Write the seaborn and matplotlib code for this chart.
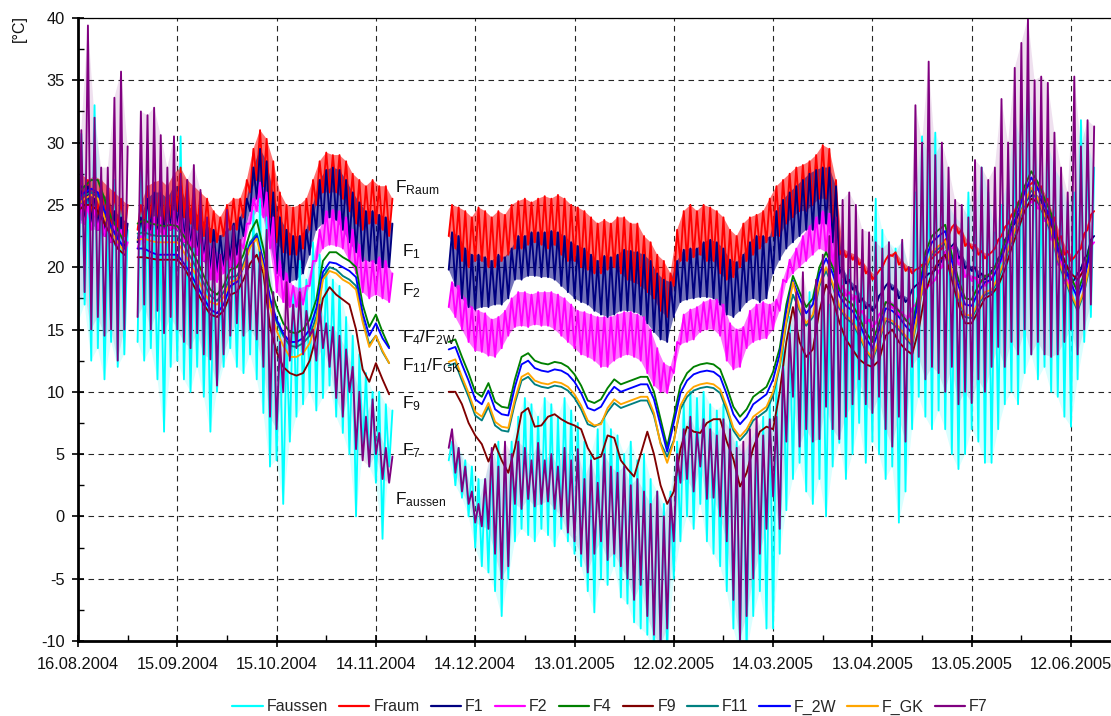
import matplotlib
matplotlib.use("Agg")
import matplotlib.pyplot as plt
from matplotlib.lines import Line2D
from matplotlib.ticker import MultipleLocator, AutoMinorLocator, FixedLocator
import seaborn as sns
import pandas as pd
from datetime import datetime

# ---------------- data ----------------
START = datetime(2004, 8, 16)
tick_labels = ["16.08.2004", "15.09.2004", "15.10.2004", "14.11.2004", "14.12.2004",
               "13.01.2005", "12.02.2005", "14.03.2005", "13.04.2005", "13.05.2005",
               "12.06.2005"]
# sampling days (days since 16.08.2004) of the three measured periods
seg_days = [list(range(0, 16, 2)), list(range(18, 96, 2)), list(range(112, 308, 2))]

# oscillating series: daily highs and lows (every 2nd day)
fraum_hi = ([27.5, 27, 27.3, 27, 26.5, 26, 25.5, 25] +
            [25, 26.5, 26.8, 27, 26.5, 27.5, 28, 27, 26.5, 26, 25.5, 24.5, 24, 25, 25.5, 25.5,
             27, 29.5, 31, 30.3, 28.5, 26, 25, 24.8, 25, 25.5, 27, 28.5, 29.2, 29, 29, 28.5,
             27.5, 27, 26.5, 27, 26.5, 26.5, 25.5] +
            [25, 24.8, 24.5, 24, 24.8, 24.5, 24, 24.5, 24.2, 25, 25.3, 25.5, 25.2, 25.5, 25.7,
             25.5, 25.8, 25.5, 25, 24.8, 24.5, 24, 23.5, 23.8, 23.5, 24, 24, 23.5, 23.5, 22.5,
             22, 21, 20.5, 19.5, 23, 24.5, 25, 24.5, 25, 24.8, 24.5, 24, 23, 22.5, 23.5,
             24, 24.2, 24.5, 25.5, 26.5, 27, 27.5, 28, 28.2, 28.5, 29, 29.8, 29.5, 27, 21.5,
             21.2, 21, 20.5, 19.8, 19.3, 20, 21, 21.2, 20.5, 20, 19.8, 20.2, 20.5, 21, 21.5,
             22.5, 23.5, 23, 22, 21.8, 21.3, 21, 21.5, 22.5, 23.5, 24.5, 25.5, 26.5, 27, 26.5,
             25.5, 24, 22.5, 21.3, 20.8, 21.5, 23, 24.5])
fraum_lo = ([24.5, 24.5, 24, 24, 23.5, 23.5, 23, 22.5] +
            [23, 23.5, 24, 24, 23.5, 24, 24.5, 24, 23.5, 23, 22.5, 22, 22, 22.5, 23, 23,
             24, 26, 27, 26.5, 24, 22, 21.2, 21, 21, 21.5, 23, 25, 26, 26, 26, 25.5,
             24.5, 23.5, 23, 23.5, 23.5, 23, 22.5] +
            [22.5, 21.5, 20.5, 20, 20.5, 20.5, 20, 20, 20.5, 21, 21.5, 21.5, 21.8, 22, 21.8,
             21.5, 21.8, 21, 20.5, 20.5, 20, 19.8, 19.5, 19.5, 19.8, 20, 19.5, 19, 18.8, 18.5,
             18, 17.5, 16.5, 16, 18.5, 20.5, 20.5, 20.8, 21, 20.5, 20.5, 19.5, 19, 19.2, 20,
             20.5, 21, 21.5, 22, 22.5, 22.5, 23.5, 24, 24.5, 24.5, 25, 25.5, 25.5, 23, 21,
             20.8, 20.6, 20.2, 19.5, 19, 19.7, 20.6, 20.9, 20.2, 19.7, 19.5, 19.9, 20.2, 20.7, 21.2,
             22.2, 23.2, 22.7, 21.7, 21.5, 21, 20.7, 21.2, 22.2, 23.2, 24.2, 25.2, 26.2, 26.7, 26.2,
             25.2, 23.7, 22.2, 21, 20.5, 21.2, 22.7, 24.2])

f1_hi = ([26.5, 26.5, 26, 26, 25.5, 24.5, 24, 23.5] +
         [24, 25.5, 26, 26, 25.5, 26.5, 26.5, 25, 24.5, 24, 23.3, 23, 22.5, 23, 23.5, 24,
          25.5, 28, 29.5, 28.5, 26, 24, 23, 22.5, 22.5, 23, 25, 27, 27.8, 28, 27.8, 27,
          26, 25.2, 24.5, 24.5, 24.2, 24, 23.5] +
         [22.8, 22.5, 21.5, 21, 21, 20.8, 20.5, 21, 20.8, 21.5, 22.5, 22.5, 22.8, 22.8, 22.8,
          22.9, 22.8, 22.5, 22, 21.7, 21.5, 21, 20.5, 20.9, 20.8, 21, 21.4, 21.3, 21.2, 21,
          20.5, 19.5, 19, 18.8, 20.5, 21.4, 21.5, 21.5, 22, 22.2, 22, 21.5, 20.6, 20.4, 21,
          22, 22.5, 22.5, 22.4, 24.5, 25.4, 26, 26.5, 27, 27.5, 27.8, 28, 28, 26.5, 20,
          19, 18.5, 17.5, 17, 16.8, 18, 18.8, 18.5, 17.8, 17.5, 18.5, 19, 19.5, 19.8, 20.5,
          21.5, 22, 21, 20.2, 20, 19.5, 19.3, 20, 21, 22.5, 23.5, 24.5, 25.5, 26, 25.5,
          24.5, 23, 21, 19.5, 19, 19.8, 21, 22.5])
f1_lo = ([24, 23.5, 23.5, 23, 22.5, 22, 21.5, 21] +
         [22, 22.5, 23, 23, 22.5, 23, 23, 22, 21.5, 21, 20.5, 19.5, 19.5, 20, 20.5, 21,
          22.5, 24.5, 25.5, 24.5, 22, 19.5, 19, 18.8, 19, 19.5, 21, 23, 23.5, 24, 23.8, 23,
          22, 21.2, 20.5, 20.5, 20.3, 20, 20] +
         [19.8, 18.5, 17.5, 16.8, 16.6, 16.8, 16.8, 17, 17, 17.5, 19, 19, 19.3, 19.3, 19.2,
          19.2, 19, 18.5, 18, 17.5, 17.2, 17, 16.5, 16.2, 16, 16.2, 16.5, 16.5, 16.4, 16.2,
          15.5, 14.8, 14.2, 14, 16, 17.2, 17.4, 17.5, 17.6, 17.6, 17.5, 17, 16.2, 16, 16.5,
          17.2, 17.5, 17.2, 17.5, 19.5, 20.6, 21.5, 22, 22.5, 23, 23, 23.5, 23.5, 22, 19.5,
          18.7, 18.2, 17.2, 16.7, 16.5, 17.7, 18.5, 18.2, 17.5, 17.2, 18.2, 18.7, 19.2, 19.5, 20.2,
          21.2, 21.7, 20.7, 19.9, 19.7, 19.2, 19, 19.7, 20.7, 22.2, 23.2, 24.2, 25.2, 25.7, 25.2,
          24.2, 22.7, 20.7, 19.2, 18.7, 19.5, 20.7, 22.2])

f2_hi = ([25, 25, 24.8, 24.5, 24, 23.5, 23, 22] +
         [22.5, 23.5, 24, 24, 24, 24.5, 24.5, 23.5, 23, 22.5, 22, 21.5, 21, 21.5, 22, 22,
          23.5, 25.5, 26.8, 26, 24, 20.5, 19.5, 18.5, 18.3, 18.5, 20.5, 23, 24.5, 24.6, 24.5,
          24, 23, 21.8, 20.5, 20.5, 20.8, 20.5, 19.5] +
         [18.8, 18.5, 17.5, 16.8, 16.5, 16.3, 15.8, 16, 16.5, 17.5, 18, 18, 17.8, 18, 18,
          18, 17.8, 17.5, 17, 16.5, 16.4, 16.2, 16, 16, 16, 16.2, 16.4, 16.4, 16.2, 16,
          15, 13.5, 12.3, 12, 14, 16.2, 16.6, 16.8, 17.2, 17.4, 17.4, 17, 15.5, 15, 15.2,
          16.5, 17, 17.2, 17, 17.4, 19, 20.6, 21.5, 22.5, 23.3, 24, 24.5, 24.3, 22.5, 18.5,
          18, 17.7, 16.5, 15.8, 15.5, 16.5, 17.4, 17, 16.4, 16, 17, 17.8, 18.5, 19, 20,
          21.5, 21.8, 20.5, 19.5, 19.2, 19, 18.8, 19.5, 20.5, 22, 23, 24, 25, 25.5, 25,
          24, 22.5, 20.5, 19, 18.5, 19.3, 20.5, 22])
f2_lo = ([23.5, 23.5, 23, 23, 22.5, 22, 21.5, 21] +
         [21.5, 22, 22.5, 22.5, 22.5, 23, 23, 22, 21.5, 21, 20.5, 19, 18.8, 19.5, 20, 20,
          21.5, 23.5, 24.5, 24, 21.5, 18, 17.2, 16.8, 16.8, 17, 18.5, 20.5, 21.5, 21.8, 21.7,
          21.5, 20.5, 19.5, 18, 17.5, 17.8, 17.5, 17.2] +
         [16.8, 16, 15, 14, 13.3, 13.2, 12.9, 12.8, 13.5, 14.5, 15.2, 15.3, 15.2, 15.4, 15.3,
          15.3, 15, 14.5, 14, 13.5, 13, 12.8, 12.5, 12, 12, 12.5, 12.8, 13, 12.8, 12.5,
          11.5, 10.5, 10, 9.9, 11.5, 13.8, 14, 14.2, 14.8, 15, 15, 14.5, 12.5, 11.8, 12,
          13.5, 14, 14.2, 14.3, 15, 16.5, 18.8, 19.5, 20, 20.5, 21, 21.5, 21.2, 20, 18,
          17.7, 17.4, 16.2, 15.5, 15.2, 16.2, 17.1, 16.7, 16.1, 15.7, 16.7, 17.5, 18.2, 18.7, 19.7,
          21.2, 21.5, 20.2, 19.2, 18.9, 18.7, 18.5, 19.2, 20.2, 21.7, 22.7, 23.7, 24.7, 25.2, 24.7,
          23.7, 22.2, 20.2, 18.7, 18.2, 19, 20.2, 21.7])

faussen_hi = ([30.7, 26, 33, 27, 23, 27, 25, 23] +
              [29.4, 25, 24, 22.5, 26, 23, 30.5, 22, 21.5, 23, 20.5, 19, 18, 20.5, 21.5, 22,
               22, 24.5, 25.5, 24, 18, 15.5, 14, 18, 20.5, 19, 22, 21, 20, 19, 18.5, 16,
               14.5, 13, 11.5, 10, 10, 9, 8.5] +
              [6, 5.5, 4.5, 4, 3, 3, 5, 6, 4, 6, 8, 9.5, 9, 8, 9.5, 9, 8, 9.5, 8.5, 7.5,
               6, 5, 7, 8, 7, 6.5, 5, 6, 4.5, 5, 3, 2, 1, 2, 6, 9, 10, 9.5, 10, 9,
               8.5, 9, 8, 6, 5, 6, 7, 8, 9.5, 11, 14, 16, 17, 15, 18, 18.5, 19, 17, 20, 19,
               19.8, 18, 20, 19, 25.5, 23, 22, 21.5, 22, 20, 26, 30.5, 29, 30.8, 29.4,
               25, 24, 23.5, 26, 24, 28, 26, 22.8, 25, 27, 32, 30, 35, 31, 26,
               30, 28, 27, 25, 26, 31.8, 30, 28])
faussen_lo = ([15.5, 17, 12.5, 13.5, 11, 14, 12, 13] +
              [14, 12.5, 13.5, 11, 6.8, 12, 12.5, 11, 10, 12, 9.6, 6.8, 10, 12, 13.5, 12,
               11.5, 13, 11, 8.3, 4, 4.5, 1, 6, 8, 9, 10, 8.5, 9.5, 10.5, 8, 6.7,
               5, 0, 5, 4, 2.7, -1.8, 4] +
              [4.5, 2.5, 1.5, 0, -2.5, -4, -4.5, -6, -8, -5, -2, -1, -1.5, -2, -1,
               -1.5, -2.4, -1, -2, -3, -4, -6, -7.7, -5, -5.5, -4, -6.5, -7, -8.5, -9,
               -9.5, -11, -11, -11, -5, -2, 0, -1, 1, -2, -3, -4, -6, -9, -11,
               -11, -8, -6, -9, -9, -3, 0.5, 3, 4.3, 2, 1, 3, 0, 4, 5.9,
               3, 5, 7.5, 4.3, 6, 5, 3, 4, -0.5, 2, 7, 9.6, 8, 7, 8.5,
               7, 5, 3.8, 5, 7, 6, 4.3, 4.3, 7, 9, 10, 9, 11.5, 13, 11,
               12, 10, 9.6, 8, 7.2, 11, 14, 16])

f7_hi = ([31, 39.4, 32, 28, 28, 33.6, 35.7, 29.7] +
         [32.5, 32.2, 32.8, 30.6, 28, 30.5, 27.5, 27, 28.2, 26.2, 24, 22, 21, 24.6, 23.3,
          22.2, 21.5, 22, 21.2, 23, 18, 14, 18.8, 17, 18, 16.5, 15, 17, 15.5, 15.2, 14.5,
          13.4, 12, 10, 8, 9.4, 6.7, 5.5, 4.8] +
         [7, 5.5, 4, 2, 1, 3, 5.5, 4, 6, 5, 6, 5.5, 4.5, 5.9, 4.5, 5, 4, 5.5, 4.5, 5.4,
          3, 4.5, 2.7, 5, 4, 3.5, 4, 2.5, 3, 2, 1, 2, 0, 1.5, 5, 7, 8, 6.7, 7.8, 7,
          6.5, 7.8, 7, 5.5, 6, 7, 8, 6.5, 7.8, 8, 12, 14.7, 18, 19.6, 17, 19, 21, 22.5, 24, 25.4,
          26, 25, 23, 22.8, 22, 21.5, 22, 21, 22.2, 20, 33, 30, 36.5, 29, 30,
          28, 25.4, 25, 24, 28.6, 28, 27, 28, 33.5, 30, 36, 38, 40, 35, 35.3,
          34.8, 30.8, 28, 26, 35.3, 29.7, 31.8, 31.3])
f7_lo = ([17, 18, 15, 16, 14.5, 15, 12.5, 15] +
         [16, 17, 15, 16.5, 14.7, 16, 15, 14, 13.5, 14.7, 13, 12.6, 10.5, 13, 14.5, 15.5,
          14.5, 15, 14.2, 12, 8, 7, 10, 12.5, 13.5, 13, 14.5, 12.5, 13.5, 12, 9.5,
          8, 10, 5.4, 4.5, 4, 5, 3, 2.7] +
         [5.5, 3.5, 2, 1, -0.5, -0.8, -1, -3, -5, -4, 1, 0.6, 1.4, 0.8, 1,
          1.2, 0.6, 0, -1.3, -2, -3, -4.5, -3, -2, -3.5, -3, -4, -5, -6.7, -5.5,
          -8, -9.5, -10.4, -9, -2, 2.7, 3, 2, 4, 1.4, 1.5, 0, -2, -6.7, -9.9,
          -8, -5, -3, -1, 1.6, -1, 6, 9.6, 5.6, 7, 6, 6.2, 8.8, 7, 6.2,
          8, 9, 11, 9, 8.3, 9.6, 7, 5.6, 8, 6, 12, 12.8, 11, 12, 11.5,
          10, 12, 9, 10, 9.1, 11, 10, 12, 13.6, 12, 14, 13, 15, 13, 14,
          13, 12.8, 13, 14, 15, 13, 15, 17])

# smooth series (every 2nd day)
f4 = ([26, 26.5, 27, 27, 25.5, 24, 23, 22] +
      [23.5, 23.8, 23.5, 23.4, 23.3, 23.4, 23.3, 22.5, 21.5, 20.5, 19.3, 18.2, 17.8, 18.5,
       19.8, 20, 21, 22.8, 23.8, 21.5, 18.5, 16.8, 15.5, 14.8, 14.7, 15, 15.8, 17.4, 20.5,
       21.2, 21.2, 20.8, 20.5, 20, 17, 15.2, 16.2, 14.8, 13.6] +
      [14.0, 14.2, 12.8, 11.5, 10.0, 9.6, 10.7, 9.2, 8.8, 8.7, 11.0, 12.8, 13.1, 12.5, 12.3,
       12.2, 12.4, 12.3, 12.0, 11.4, 10.5, 9.3, 9.1, 9.4, 10.3, 11.0, 10.6, 10.8, 11.0, 11.2,
       11.2, 10.0, 7.8, 5.6, 8.0, 10.5, 11.5, 12.0, 12.2, 12.3, 12.2, 11.8, 10.4, 8.8, 8.0,
       8.6, 9.6, 10.0, 10.4, 11.6, 13.5, 17.0, 19.3, 18.0, 16.8, 17.5, 20.0, 21.2, 20.0, 18.2,
       17.4, 17.0, 16.0, 14.8, 14.0, 15.5, 17.2, 17.0, 16.5, 15.8, 15.2, 18.0, 21.2, 22.5, 23.0,
       23.4, 21.0, 19.0, 17.5, 17.4, 18.5, 19.3, 19.5, 20.5, 22.0, 23.5, 25.0, 26.5, 27.7, 26.8,
       25.5, 24.3, 22.0, 20.6, 19.2, 18.0, 19.5, 22.0])
f_2w = ([25.5, 26, 26.3, 26, 24.5, 23.3, 22.3, 21.5] +
        [21.5, 21.5, 21.2, 21, 21, 21, 21, 20.3, 19.5, 18.5, 17.5, 16.6, 16.3, 17, 18.5,
         18.8, 20, 21.8, 22.5, 20.5, 17.5, 15.8, 14.7, 14, 14, 14.3, 15, 16.7, 19.6, 20.4,
         20.3, 20, 19.7, 19.2, 16.3, 14.5, 15.5, 14.3, 13.5] +
        [13.4, 13.6, 12.2, 10.9, 9.4, 9.0, 10.1, 8.6, 8.2, 8.1, 10.4, 12.2, 12.5, 11.9, 11.7,
         11.6, 11.8, 11.7, 11.4, 10.8, 9.9, 8.7, 8.5, 8.8, 9.7, 10.4, 10.0, 10.2, 10.4, 10.6,
         10.6, 9.4, 7.3, 5.2, 7.5, 9.9, 10.9, 11.4, 11.6, 11.7, 11.6, 11.2, 9.8, 8.2, 7.4,
         8.0, 9.0, 9.4, 9.8, 11.0, 13.0, 16.5, 18.9, 17.5, 16.3, 17.0, 19.5, 20.7, 19.5, 17.7,
         16.9, 16.5, 15.5, 14.3, 13.5, 15.0, 16.7, 16.5, 16.0, 15.3, 14.7, 17.5, 20.7, 22.0, 22.5,
         22.9, 20.5, 18.5, 17.0, 16.9, 18.0, 18.8, 19.0, 20.0, 21.5, 23.0, 24.5, 26.0, 27.2, 26.3,
         25.0, 23.8, 21.5, 20.1, 18.7, 17.5, 19.0, 21.5])
f11 = ([25.5, 25.8, 26, 25.8, 24.5, 23.2, 22.3, 21.5] +
       [22.7, 22.8, 22.6, 22.5, 22.5, 22.5, 22.5, 21.8, 20.8, 19.8, 18.7, 17.7, 17.3, 18, 19.2,
        19.3, 20.3, 22, 22.7, 20.4, 17.3, 15.6, 14.5, 13.7, 13.6, 13.9, 14.5, 16, 19.2, 20,
        19.8, 19.3, 19, 18.5, 15.8, 13.8, 14.5, 13.2, 12.3] +
       [12.1, 12.3, 10.9, 9.6, 8.1, 7.7, 8.8, 7.3, 6.9, 6.8, 9.1, 10.9, 11.2, 10.6, 10.4,
        10.3, 10.5, 10.4, 10.1, 9.5, 8.6, 7.4, 7.2, 7.5, 8.4, 9.1, 8.7, 8.9, 9.1, 9.3,
        9.3, 8.1, 5.9, 4.8, 6.1, 8.6, 9.6, 10.1, 10.3, 10.4, 10.3, 9.9, 8.5, 6.9, 6.1,
        6.7, 7.7, 8.1, 8.5, 9.7, 12.0, 15.5, 17.8, 16.5, 15.3, 16.0, 18.5, 19.7, 18.5, 16.7,
        15.9, 15.5, 14.5, 13.3, 12.5, 14.0, 15.7, 15.5, 15.0, 14.3, 13.7, 16.5, 19.7, 21.0, 21.5,
        21.9, 19.5, 17.5, 16.0, 15.9, 17.0, 17.8, 18.0, 19.0, 20.5, 22.0, 23.5, 25.0, 26.2, 25.3,
        24.0, 22.8, 20.5, 19.1, 17.7, 16.5, 18.0, 20.5])
f_gk = ([25, 25.5, 25.8, 25.5, 24, 22.8, 22, 21.2] +
        [22.2, 22.3, 22.1, 22, 22, 22, 22, 21.2, 20.2, 19.2, 18, 17.2, 17, 17.6, 18.8,
         19, 20, 21.6, 22.3, 20, 16.8, 14.9, 13.7, 12.8, 12.8, 13.1, 13.9, 15.6, 19, 19.7,
         19.5, 19, 18.7, 18.2, 15.6, 13.6, 14.5, 13.3, 12.3] +
        [12.4, 12.6, 11.2, 9.9, 8.4, 8.0, 9.1, 7.6, 7.2, 7.1, 9.4, 11.2, 11.5, 10.9, 10.7,
         10.6, 10.8, 10.7, 10.4, 9.8, 8.9, 7.7, 7.3, 7.4, 8.7, 9.4, 9.0, 9.2, 9.4, 9.6,
         9.6, 8.3, 5.8, 4.3, 6.0, 8.9, 9.9, 10.4, 10.6, 10.7, 10.6, 10.2, 8.8, 7.1, 6.4,
         7.0, 8.0, 8.4, 8.8, 10.0, 12.2, 15.7, 18.8, 16.7, 15.5, 16.2, 18.7, 20.0, 18.7, 16.9,
         16.1, 15.7, 14.7, 13.4, 12.7, 14.2, 15.9, 15.7, 15.2, 14.5, 13.9, 16.7, 19.9, 21.2, 21.7,
         22.1, 19.7, 17.7, 16.2, 16.1, 17.2, 18.0, 18.2, 19.2, 20.7, 22.2, 23.7, 25.2, 26.4, 25.5,
         24.2, 23.0, 20.7, 19.3, 17.9, 16.7, 18.2, 20.7])
f9 = ([24.5, 25, 25, 24.5, 23.5, 22.5, 21.5, 21] +
      [20.8, 20.8, 20.7, 20.6, 20.6, 20.6, 20.6, 20, 19, 18, 17, 16.2, 16, 16.5, 17.8,
       18, 19, 20.3, 21, 19.5, 15.2, 13.2, 12, 11.5, 11.3, 11.5, 12.5, 14.5, 17.5, 18.4,
       17.8, 17.4, 17, 15, 11.8, 10.8, 12.3, 11, 9.8] +
      [10.0, 10.0, 9.0, 7.5, 6.5, 5.8, 4.4, 5.8, 4.5, 3.5, 5.5, 8.3, 8.7, 7.2, 7.3,
       8.0, 8.2, 7.8, 7.5, 7.3, 7.0, 5.5, 4.6, 4.8, 6.5, 6.3, 4.5, 3.8, 3.2, 5.0,
       6.8, 5.0, 2.5, 1.0, 2.0, 5.4, 7.2, 6.8, 6.7, 7.5, 7.8, 7.8, 6.0, 4.6, 2.4,
       3.5, 5.5, 6.8, 7.2, 7.0, 10.0, 14.0, 16.8, 14.0, 12.8, 13.4, 16.5, 18.6, 17.5, 15.6,
       14.2, 13.4, 12.6, 12.2, 12.0, 12.5, 14.5, 15.0, 14.0, 13.4, 13.0, 15.0, 18.0, 19.5, 20.5,
       21.0, 19.0, 17.0, 15.5, 15.5, 16.5, 17.5, 17.8, 18.5, 19.8, 21.5, 23.0, 24.5, 25.5, 25.2,
       24.5, 23.5, 21.5, 20.5, 19.5, 19.0, 19.8, 21.0])

series_names = ["Faussen", "Fraum", "F1", "F2", "F4", "F9", "F11", "F_2W", "F_GK", "F7"]
series_colors = ["#00FFFF", "#FF0000", "#000080", "#FF00FF", "#008000", "#800000",
                 "#008080", "#0000FF", "#FFA500", "#800080"]
oscillating = {"Faussen": (faussen_hi, faussen_lo), "Fraum": (fraum_hi, fraum_lo),
               "F1": (f1_hi, f1_lo), "F2": (f2_hi, f2_lo), "F7": (f7_hi, f7_lo)}
smooth = {"F4": f4, "F9": f9, "F11": f11, "F_2W": f_2w, "F_GK": f_gk}
band_alpha = {"Faussen": 0.15, "Fraum": 0.55, "F1": 0.55, "F2": 0.55, "F7": 0.12}

# ---------------- build long table ----------------
n_pts = sum(len(d) for d in seg_days)
for name, (hi, lo) in oscillating.items():
    assert len(hi) == n_pts and len(lo) == n_pts, name
for name, v in smooth.items():
    assert len(v) == n_pts, name

rows = []
for name in series_names:
    k = 0
    for s, days in enumerate(seg_days):
        for d in days:
            if name in oscillating:
                hi, lo = oscillating[name]
                rows.append((name, s, d, lo[k]))
                rows.append((name, s, d + 1, hi[k]))
            else:
                rows.append((name, s, d, smooth[name][k]))
            k += 1
df = pd.DataFrame(rows, columns=["series", "seg", "day", "temp"])

# ---------------- figure ----------------
sns.set_theme(style="white")
plt.rcParams["font.family"] = ["Liberation Sans", "DejaVu Sans"]
plt.rcParams["mathtext.fontset"] = "custom"
plt.rcParams["mathtext.rm"] = "Liberation Sans"
plt.rcParams["mathtext.it"] = "Liberation Sans:italic"
plt.rcParams["mathtext.bf"] = "Liberation Sans:bold"
plt.rcParams["axes.unicode_minus"] = False

W, H = 1111, 716
fig = plt.figure(figsize=(W / 100, H / 100), dpi=100)
px_per_day = 3.31
ax_left, ax_right, ax_top, ax_bot = 78, 1135, 18, 641
ax = fig.add_axes([ax_left / W, (H - ax_bot) / H, (ax_right - ax_left) / W, (ax_bot - ax_top) / H])

for name, col in zip(series_names, series_colors):
    sub = df[df["series"] == name]
    if name in oscillating:
        # translucent band between daily lows and highs (the dense hourly strokes)
        for s in range(len(seg_days)):
            seg = sub[sub["seg"] == s]
            lo_part = seg.iloc[0::2]
            hi_part = seg.iloc[1::2]
            xs = list(hi_part["day"]) + list(lo_part["day"])[::-1]
            ys = list(hi_part["temp"]) + list(lo_part["temp"])[::-1]
            ax.fill(xs, ys, color=col, alpha=band_alpha[name], lw=0)
    sns.lineplot(data=sub, x="day", y="temp", units="seg", estimator=None, sort=False,
                 color=col, linewidth=1.35, ax=ax, legend=False)

ax.set_xlim(0, (ax_right - ax_left) / px_per_day)
ax.set_ylim(-10, 40)
tick_days = [(datetime.strptime(t, "%d.%m.%Y") - START).days for t in tick_labels]
ax.xaxis.set_major_locator(FixedLocator(tick_days))
ax.set_xticklabels(tick_labels)
ax.xaxis.set_minor_locator(AutoMinorLocator(2))
ax.yaxis.set_major_locator(MultipleLocator(5))
ax.yaxis.set_minor_locator(MultipleLocator(2.5))
ax.set_xlabel("")
ax.set_ylabel("")

ax.set_axisbelow(True)
ax.grid(True, which="major", color="black", linestyle=(0, (5, 4)), linewidth=0.8, alpha=0.85)
for side in ["left", "bottom"]:
    ax.spines[side].set_linewidth(2.0)
    ax.spines[side].set_color("black")
ax.spines["top"].set_linewidth(0.9)
ax.spines["top"].set_color("black")
ax.spines["right"].set_visible(False)

ax.tick_params(axis="both", which="major", direction="inout", length=9, width=1.2,
               labelsize=11.8, color="black", labelcolor="#111111")
ax.tick_params(axis="x", which="major", pad=7, bottom=True)
ax.tick_params(axis="y", which="major", pad=5, left=True)
ax.tick_params(axis="both", which="minor", direction="in", length=4, width=1, color="black",
               bottom=True, left=True)

# in-plot series labels
labels_inplot = [
    (95.8, 26.4, r"F$_{\mathrm{Raum}}$"),
    (97.9, 21.25, r"F$_{\mathrm{1}}$"),
    (97.9, 18.1, r"F$_{\mathrm{2}}$"),
    (97.9, 14.35, r"F$_{\mathrm{4}}$/F$_{\mathrm{2W}}$"),
    (97.9, 12.1, r"F$_{\mathrm{11}}$/F$_{\mathrm{GK}}$"),
    (97.9, 9.06, r"F$_{\mathrm{9}}$"),
    (97.9, 5.3, r"F$_{\mathrm{7}}$"),
    (95.8, 1.36, r"F$_{\mathrm{aussen}}$"),
]
for x, y, t in labels_inplot:
    ax.text(x, y, t, fontsize=12.5, ha="left", va="center", color="#111111")

fig.text(19 / W, 1 - 28 / H, "[°C]", rotation=90, ha="center", va="center",
         fontsize=11.5, color="#111111")

handles = [Line2D([0], [0], color=c, lw=1.6) for c in series_colors]
fig.legend(handles, series_names, loc="center", bbox_to_anchor=(610 / W, 1 - 707 / H),
           ncol=10, frameon=False, fontsize=11.5, handlelength=1.9, handletextpad=0.25,
           columnspacing=0.7)

fig.savefig("out.png", dpi=100)
